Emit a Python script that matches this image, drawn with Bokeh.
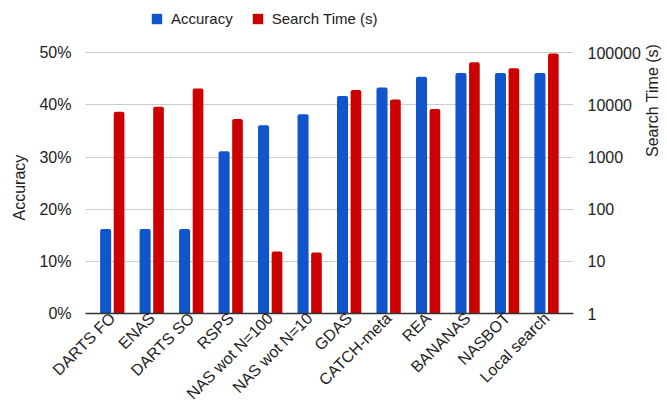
import math
from bokeh.plotting import figure
from bokeh.models import (ColumnDataSource, FactorRange, Range1d, LogScale, Title,
                          LogAxis, FixedTicker, NumeralTickFormatter, Legend, LegendItem)
from bokeh.transform import dodge
from bokeh.embed import file_html
from bokeh.resources import INLINE

categories = ["DARTS FO", "ENAS", "DARTS SO", "RSPS", "NAS wot N=100", "NAS wot N=10",
              "GDAS", "CATCH-meta", "REA", "BANANAS", "NASBOT", "Local search"]
accuracy = [0.162, 0.162, 0.162, 0.311, 0.361, 0.382, 0.417, 0.433, 0.454, 0.461, 0.461, 0.461]
search_time = [7400, 9200, 20600, 5350, 15.5, 14.7, 19200, 12700, 8300, 65800, 50500, 96100]
acc_ticks = [0, 0.1, 0.2, 0.3, 0.4, 0.5]
time_ticks = [1, 10, 100, 1000, 10000, 100000]

BLUE = "#1155cc"
RED = "#cc0000"
FONT = "Liberation Sans"
TXT = "#222222"

src = ColumnDataSource(dict(cat=categories, acc=accuracy, t=search_time))

# the frame extends above the 50% line to leave room for the legend inside it
p = figure(frame_width=488, frame_height=313, output_backend="svg", toolbar_location=None,
           x_range=FactorRange(factors=categories, range_padding=0.03),
           y_range=Range1d(0, 0.6),
           min_border_left=83, min_border_right=78, min_border_top=0, min_border_bottom=80)
p.extra_y_ranges = {"log": Range1d(1, 1e6)}
p.extra_y_scales = {"log": LogScale()}

p.outline_line_color = None
p.background_fill_color = "white"
p.border_fill_color = "white"

r1 = p.vbar(x=dodge("cat", -0.17, range=p.x_range), top="acc", width=0.28, source=src,
            color=BLUE, line_color=None, border_radius=(2, 2, 0, 0))
r2 = p.vbar(x=dodge("cat", 0.17, range=p.x_range), top="t", bottom=1, width=0.27, source=src,
            color=RED, line_color=None, border_radius=(2, 2, 0, 0), y_range_name="log")

# left axis
la = p.yaxis[0]
la.ticker = FixedTicker(ticks=acc_ticks)
la.formatter = NumeralTickFormatter(format="0%")
la.axis_line_color = None
la.major_tick_line_color = None
la.minor_tick_line_color = None
la.major_label_standoff = 8
la.major_label_text_font = FONT
la.major_label_text_font_size = "16px"
la.major_label_text_color = TXT

left_title = Title(text="Accuracy", align="left", offset=93, standoff=17,
                   text_font=FONT, text_font_size="16px", text_font_style="normal",
                   text_color=TXT)
p.add_layout(left_title, "left")

# right axis
ra = LogAxis(y_range_name="log")
ra.ticker = FixedTicker(ticks=time_ticks)
ra.formatter = NumeralTickFormatter(format="0")
ra.axis_label = "Search Time (s)"
ra.axis_label_orientation = math.pi / 2
ra.axis_line_color = None
ra.major_tick_line_color = None
ra.minor_tick_line_color = None
ra.major_label_standoff = 8
ra.axis_label_standoff = 9
ra.major_label_text_font = FONT
ra.major_label_text_font_size = "16px"
ra.major_label_text_color = TXT
ra.axis_label_text_font = FONT
ra.axis_label_text_font_size = "16px"
ra.axis_label_text_font_style = "normal"
ra.axis_label_text_color = TXT
p.add_layout(ra, "right")

# bottom axis
xa = p.xaxis[0]
xa.major_label_orientation = math.pi / 4
xa.axis_line_color = "#333333"
xa.axis_line_width = 1.5
xa.major_tick_line_color = None
xa.minor_tick_line_color = None
xa.major_label_standoff = -4
xa.major_label_text_font = FONT
xa.major_label_text_font_size = "16px"
xa.major_label_text_color = TXT

p.xgrid.grid_line_color = None
p.ygrid.ticker = FixedTicker(ticks=acc_ticks)
p.ygrid.grid_line_color = "#cccccc"
p.ygrid.grid_line_width = 1

legend = Legend(items=[LegendItem(label="Accuracy", renderers=[r1]),
                       LegendItem(label="Search Time (s)", renderers=[r2])],
                orientation="horizontal", location=(65, 286),
                glyph_width=13, glyph_height=13, label_height=17, label_standoff=8,
                spacing=18, padding=0, margin=0,
                label_text_font=FONT, label_text_font_size="15px", label_text_color=TXT,
                background_fill_alpha=0, border_line_color=None)
p.add_layout(legend, "center")

open("out.html", "w").write(file_html(p, INLINE))
